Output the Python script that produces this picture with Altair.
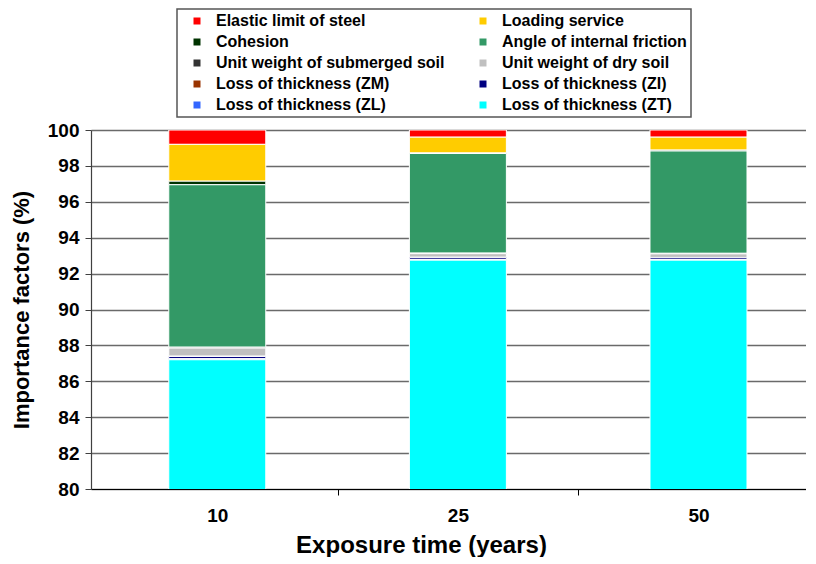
import altair as alt
import pandas as pd
import json

# ---- data ----
exposure = ["10", "25", "50"]

series = [
    "Elastic limit of steel",
    "Loading service",
    "Cohesion",
    "Angle of internal friction",
    "Unit weight of submerged soil",
    "Unit weight of dry soil",
    "Loss of thickness (ZM)",
    "Loss of thickness (ZI)",
    "Loss of thickness (ZL)",
    "Loss of thickness (ZT)",
]
colors = ["#FF0000", "#FFCC00", "#003300", "#339966", "#333333",
          "#C0C0C0", "#993300", "#000080", "#3366FF", "#00FFFF"]

elastic = [0.80, 0.40, 0.40]
loading = [2.05, 0.88, 0.72]
cohesion = [0.20, 0.03, 0.05]
friction = [9.05, 5.55, 5.70]
submerged = [0.05, 0.03, 0.03]
dry = [0.45, 0.20, 0.20]
zm = [0.02, 0.02, 0.02]
zi = [0.12, 0.10, 0.10]
zl = [0.06, 0.04, 0.03]
zt = [87.20, 92.75, 92.75]

values = [elastic, loading, cohesion, friction, submerged, dry, zm, zi, zl, zt]

rows = []
for s_i, (name, vals) in enumerate(zip(series, values)):
    for c_i, cat in enumerate(exposure):
        rows.append({
            "series": name,
            "pos": c_i,
            "exposure": cat,
            "value": vals[c_i],
            "stack": len(series) - 1 - s_i,  # ZT at bottom
        })
df = pd.DataFrame(rows)

# legend fills column by column: reorder so that it reads row by row
legend_order = series[0::2] + series[1::2]
legend_colors = [colors[series.index(s)] for s in legend_order]

FONT = "Liberation Sans"
label_expr = ("datum.value % 1 === 0 ? " + json.dumps(exposure).replace('"', "'")
              + "[datum.value] : ''")

bars = alt.Chart(df).mark_bar(size=97, stroke="white", strokeWidth=1, clip=True).encode(
    x=alt.X(
        "pos:Q",
        scale=alt.Scale(domain=[-0.504, 2.426], nice=False, zero=False),
        axis=alt.Axis(
            title="Exposure time (years)",
            values=[0, 0.5, 1, 1.5, 2],
            labelExpr=label_expr,
            labelOverlap=False,
            labelFlush=False,
            grid=False,
            tickSize=6,
            tickColor="#000000",
            tickOpacity={"condition": {"test": "datum.value % 1 !== 0", "value": 1}, "value": 0},
            labelPadding=11,
            labelFontSize=19,
            labelFontWeight="bold",
            labelColor="black",
            titleFontSize=24,
            titleFontWeight="bold",
            titleColor="black",
            titlePadding=8,
            titleX=330,
            domainColor="#000000",
            domainWidth=1.2,
        ),
    ),
    y=alt.Y(
        "value:Q",
        stack="zero",
        scale=alt.Scale(domain=[80, 100], nice=False, zero=False),
        axis=alt.Axis(
            title="Importance factors (%)",
            values=list(range(80, 101, 2)),
            grid=True,
            gridColor="#6a6a6a",
            gridWidth=1.4,
            tickSize=6,
            tickColor="#404040",
            labelPadding=6,
            labelFontSize=19,
            labelFontWeight="bold",
            labelColor="black",
            titleFontSize=22,
            titleFontWeight="bold",
            titleColor="black",
            titlePadding=14,
            domainColor="#404040",
            domainWidth=1.2,
        ),
    ),
    color=alt.Color(
        "series:N",
        scale=alt.Scale(domain=legend_order, range=legend_colors),
        sort=legend_order,
        legend=alt.Legend(
            title=None,
            orient="none",
            legendX=86,
            legendY=-121,
            columns=2,
            columnPadding=22,
            rowPadding=5,
            padding=4,
            symbolType="square",
            symbolSize=49,
            symbolStrokeWidth=0,
            symbolOffset=8,
            labelOffset=11,
            labelFontSize=16,
            labelFontWeight="bold",
            labelColor="black",
            labelLimit=400,
            strokeColor="#555555",
            fillColor="white",
        ),
    ),
    order=alt.Order("stack:Q", sort="ascending"),
)

chart = bars.properties(
    width=715,
    height=359,
    padding={"left": 2, "top": 0, "right": 0, "bottom": 0},
).configure(font=FONT).configure_view(stroke=None).configure_legend(strokeWidth=1.5)

chart.save("out.html", embed_options={"renderer": "svg", "actions": False})
